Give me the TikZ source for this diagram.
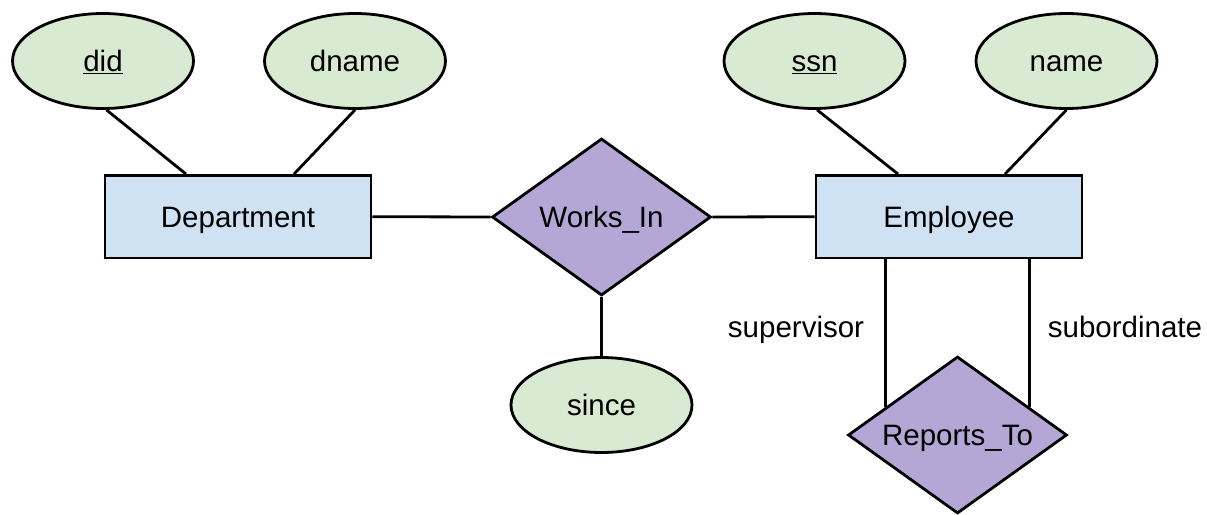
\documentclass[tikz,border=0pt]{standalone}
\usepackage{fontspec}
\setmainfont{Liberation Sans}
\usetikzlibrary{shapes.geometric,calc}
\definecolor{attrfill}{HTML}{D9EAD3}
\definecolor{entfill}{HTML}{CFE2F3}
\definecolor{relfill}{HTML}{B4A7D6}
\begin{document}
\begin{tikzpicture}[x=1pt,y=-1pt,
  every node/.style={font=\fontsize{29.5}{35}\selectfont, text height=21pt, text depth=0pt, inner sep=0pt},
  lw/.style={line width=2.8pt},
  attr/.style={lw, draw, ellipse, fill=attrfill, minimum width=181pt, minimum height=95pt},
  entity/.style={lw, draw, rectangle, fill=entfill, minimum width=266pt, minimum height=82.5pt},
  rel/.style={lw, draw, diamond, aspect=1.4, fill=relfill, minimum width=219pt, minimum height=157pt},
  link/.style={lw}]
\useasboundingbox (0,0) rectangle (1207,514);

% attributes
\node[attr] (did)   at (103,61)    {\underline{did}};
\node[attr] (dname) at (355,61)    {dname};
\node[attr] (ssn)   at (814.5,61)  {\underline{ssn}};
\node[attr] (name)  at (1066.5,61) {name};
\node[attr] (since) at (601.5,405) {since};

% entities
\node[entity] (dept) at (238,216.7) {Department};
\node[entity] (emp)  at (949,216.7) {Employee};

% relationships
\node[rel] (works) at (601.5,217) {Works\_In};
\node[rel] (rep)   at (957.5,435) {Reports\_To};

% role labels
\node (sup) at (796,327)  {supervisor};
\node (sub) at (1125,327) {subordinate};

% attribute links
\draw[link] (did.-86) -- ([xshift=-52pt]dept.north);
\draw[link] (dname.south) -- ([xshift=56pt]dept.north);
\draw[link] (ssn.-87) -- ([xshift=-51pt]emp.north);
\draw[link] (name.south) -- ([xshift=56pt]emp.north);
\draw[link] (works.south) -- (since.north);

% relationship links
\draw[link] (dept.east) -- (works.west);
\draw[link] (works.east) -- (emp.west);
\coordinate (supend) at ($(rep.west)!0.35!(rep.north)$);
\coordinate (subend) at ($(rep.east)!0.35!(rep.north)$);
\draw[link] (supend) -- (supend |- emp.south);
\draw[link] (subend) -- (subend |- emp.south);
\end{tikzpicture}
\end{document}
